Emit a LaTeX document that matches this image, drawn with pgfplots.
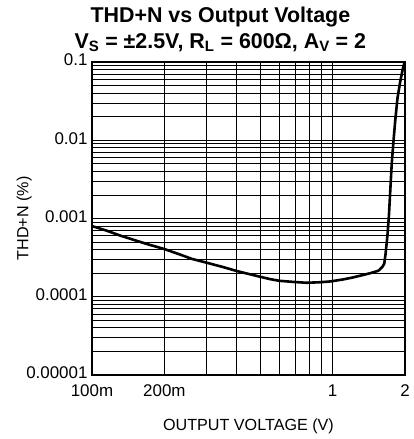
\documentclass[border=0pt]{standalone}
\usepackage{fontspec}
\setmainfont{Liberation Sans}
\usepackage{pgfplots}
\pgfplotsset{compat=1.18}

\begin{document}
\begin{tikzpicture}
\begin{loglogaxis}[
  scale only axis,
  width=313bp, height=313bp,
  xmin=0.1, xmax=2,
  ymin=1e-5, ymax=0.1,
  /pgf/number format/assume math mode=true,
  xtick={0.1,0.2,1,2},
  xticklabels={100m,200m,1,2},
  minor xtick={0.3,0.4,0.5,0.6,0.7,0.8,0.9},
  ytick={1e-5,1e-4,1e-3,1e-2,1e-1},
  yticklabels={0.00001,0.0001,0.001,0.01,0.1},
  minor ytick={2e-5,3e-5,4e-5,5e-5,6e-5,7e-5,8e-5,9e-5,
               2e-4,3e-4,4e-4,5e-4,6e-4,7e-4,8e-4,9e-4,
               2e-3,3e-3,4e-3,5e-3,6e-3,7e-3,8e-3,9e-3,
               2e-2,3e-2,4e-2,5e-2,6e-2,7e-2,8e-2,9e-2},
  grid=both,
  major grid style={black, line width=0.8bp},
  minor grid style={black, line width=0.8bp},
  major tick length=0pt, minor tick length=0pt,
  axis line style={black, line width=1.4bp},
  tick label style={font=\fontsize{17}{20}\selectfont},
  xticklabel style={yshift=-6bp},
  yticklabel style={xshift=-1bp, yshift=2bp},
  xlabel={OUTPUT VOLTAGE (V)},
  ylabel={THD+N (\%)},
  label style={font=\fontsize{16.2}{19}\selectfont},
  xlabel style={at={(axis description cs:0.5,-0.163)}, anchor=center},
  ylabel style={at={(axis description cs:-0.217,0.5)}, anchor=center, rotate=0},
  title={THD+N vs Output Voltage\\V\textsubscript{S} = ±2.5V, R\textsubscript{L} = 600Ω, A\textsubscript{V} = 2},
  title style={at={(axis description cs:0.41,1)}, anchor=south, align=center,
    font=\bfseries\fontsize{21.5}{26}\selectfont, yshift=1bp},
]
\addplot[black, line width=2.6bp] coordinates {
  (0.1,0.00080) (0.115,0.00070) (0.13,0.00061) (0.15,0.00053) (0.17,0.00047)
  (0.2,0.000407) (0.23,0.000350) (0.26,0.000305) (0.3,0.000272)
  (0.35,0.000240) (0.4,0.000213) (0.45,0.000195) (0.5,0.000180)
  (0.55,0.000168) (0.6,0.000160) (0.7,0.000154) (0.78,0.000151)
  (0.88,0.000153) (0.98,0.000157) (1.1,0.000166) (1.22,0.000177)
  (1.35,0.000191) (1.45,0.000202) (1.55,0.000215) (1.61,0.000240)
  (1.64,0.000265) (1.66,0.00035) (1.69,0.0006) (1.715,0.0011)
  (1.74,0.0025) (1.76,0.0048) (1.79,0.0095) (1.82,0.0173)
  (1.86,0.034) (1.91,0.056) (1.95,0.077) (1.99,0.099)
};
\end{loglogaxis}
\path ([shift={(-92bp,-64bp)}]current axis.south west) rectangle ([shift={(9bp,62bp)}]current axis.north east);
\end{tikzpicture}
\end{document}
